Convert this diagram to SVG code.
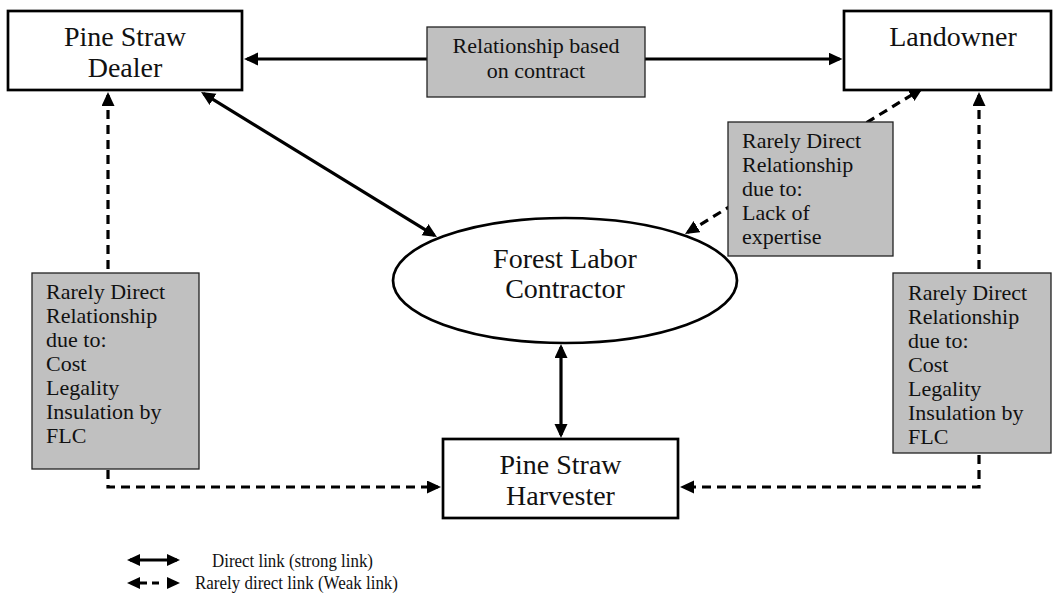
<svg xmlns="http://www.w3.org/2000/svg" width="1053" height="596" viewBox="0 0 1053 596">
<style>
.node{fill:#fff;stroke:#000;stroke-width:2.7}
.note{fill:#c0c0c0;stroke:#222;stroke-width:1.3}
.t{font-family:"Liberation Serif","Times New Roman",serif;fill:#111}
.big{font-size:28px;text-anchor:middle}
.mid{font-size:22px}
.leg{font-size:19px}
.strong{fill:none;stroke:#000;stroke-width:3.2}
.weak{fill:none;stroke:#000;stroke-width:3.2;stroke-dasharray:9 6}
</style>
<defs>
<marker id="ah" markerUnits="userSpaceOnUse" markerWidth="16" markerHeight="14" refX="11" refY="6.5" orient="auto-start-reverse">
<path d="M0,0 L14,6.5 L0,13 Z" fill="#000"/>
</marker>
<marker id="ahs" markerUnits="userSpaceOnUse" markerWidth="14" markerHeight="13" refX="10" refY="6" orient="auto-start-reverse">
<path d="M0,0 L13,6 L0,12 Z" fill="#000"/>
</marker>
</defs>

<g id="connectors">
<path class="strong" d="M247,59 H839.5" marker-start="url(#ah)" marker-end="url(#ah)"/>
<path class="strong" d="M203.6,93.6 L434.4,235.4" marker-start="url(#ah)" marker-end="url(#ah)"/>
<path class="strong" d="M561,347 V435" marker-start="url(#ah)" marker-end="url(#ah)"/>
<path class="weak" d="M687.6,232.4 L920.4,89.6" marker-start="url(#ah)" marker-end="url(#ah)"/>
<path class="weak" d="M108,95 V487 H438" marker-start="url(#ah)" marker-end="url(#ah)"/>
<path class="weak" d="M979,95 V487 H683" marker-start="url(#ah)" marker-end="url(#ah)"/>
</g>

<g id="dealer">
<rect class="node" x="8" y="11" width="234" height="79"/>
<text class="t big" x="125" y="46">Pine Straw</text>
<text class="t big" x="125" y="77">Dealer</text>
</g>

<g id="landowner">
<rect class="node" x="844" y="11" width="207" height="79"/>
<text class="t big" x="953" y="46">Landowner</text>
</g>

<g id="contract-note">
<rect class="note" x="427" y="27" width="218" height="70"/>
<text class="t mid" x="536" y="53" text-anchor="middle">Relationship based</text>
<text class="t mid" x="536" y="78" text-anchor="middle">on contract</text>
</g>

<g id="flc">
<ellipse class="node" cx="565" cy="280.5" rx="172" ry="62.5"/>
<text class="t big" x="565" y="268">Forest Labor</text>
<text class="t big" x="565" y="298">Contractor</text>
</g>

<g id="expertise-note">
<rect class="note" x="728" y="122" width="165" height="134"/>
<text class="t mid" x="742" y="148">Rarely Direct</text>
<text class="t mid" x="742" y="172">Relationship</text>
<text class="t mid" x="742" y="196">due to:</text>
<text class="t mid" x="742" y="220">Lack of</text>
<text class="t mid" x="742" y="244">expertise</text>
</g>

<g id="left-note">
<rect class="note" x="32" y="273" width="167" height="196"/>
<text class="t mid" x="46" y="299">Rarely Direct</text>
<text class="t mid" x="46" y="323">Relationship</text>
<text class="t mid" x="46" y="347">due to:</text>
<text class="t mid" x="46" y="371">Cost</text>
<text class="t mid" x="46" y="395">Legality</text>
<text class="t mid" x="46" y="419">Insulation by</text>
<text class="t mid" x="46" y="443">FLC</text>
</g>

<g id="right-note">
<rect class="note" x="893" y="273" width="158" height="180"/>
<text class="t mid" x="908" y="300">Rarely Direct</text>
<text class="t mid" x="908" y="324">Relationship</text>
<text class="t mid" x="908" y="348">due to:</text>
<text class="t mid" x="908" y="372">Cost</text>
<text class="t mid" x="908" y="396">Legality</text>
<text class="t mid" x="908" y="420">Insulation by</text>
<text class="t mid" x="908" y="444">FLC</text>
</g>

<g id="harvester">
<rect class="node" x="443" y="439" width="235" height="79"/>
<text class="t big" x="560.5" y="474">Pine Straw</text>
<text class="t big" x="560.5" y="505">Harvester</text>
</g>

<g id="legend">
<path class="strong" d="M130,560 H177" stroke-width="3" marker-start="url(#ahs)" marker-end="url(#ahs)"/>
<path class="strong" d="M130,583 H177" stroke-width="3" stroke-dasharray="0 10 7 5 7 20" marker-start="url(#ahs)" marker-end="url(#ahs)"/>
<text class="t leg" x="212" y="567" textLength="161" lengthAdjust="spacingAndGlyphs">Direct link (strong link)</text>
<text class="t leg" x="195" y="589" textLength="203" lengthAdjust="spacingAndGlyphs">Rarely direct link (Weak link)</text>
</g>
</svg>
